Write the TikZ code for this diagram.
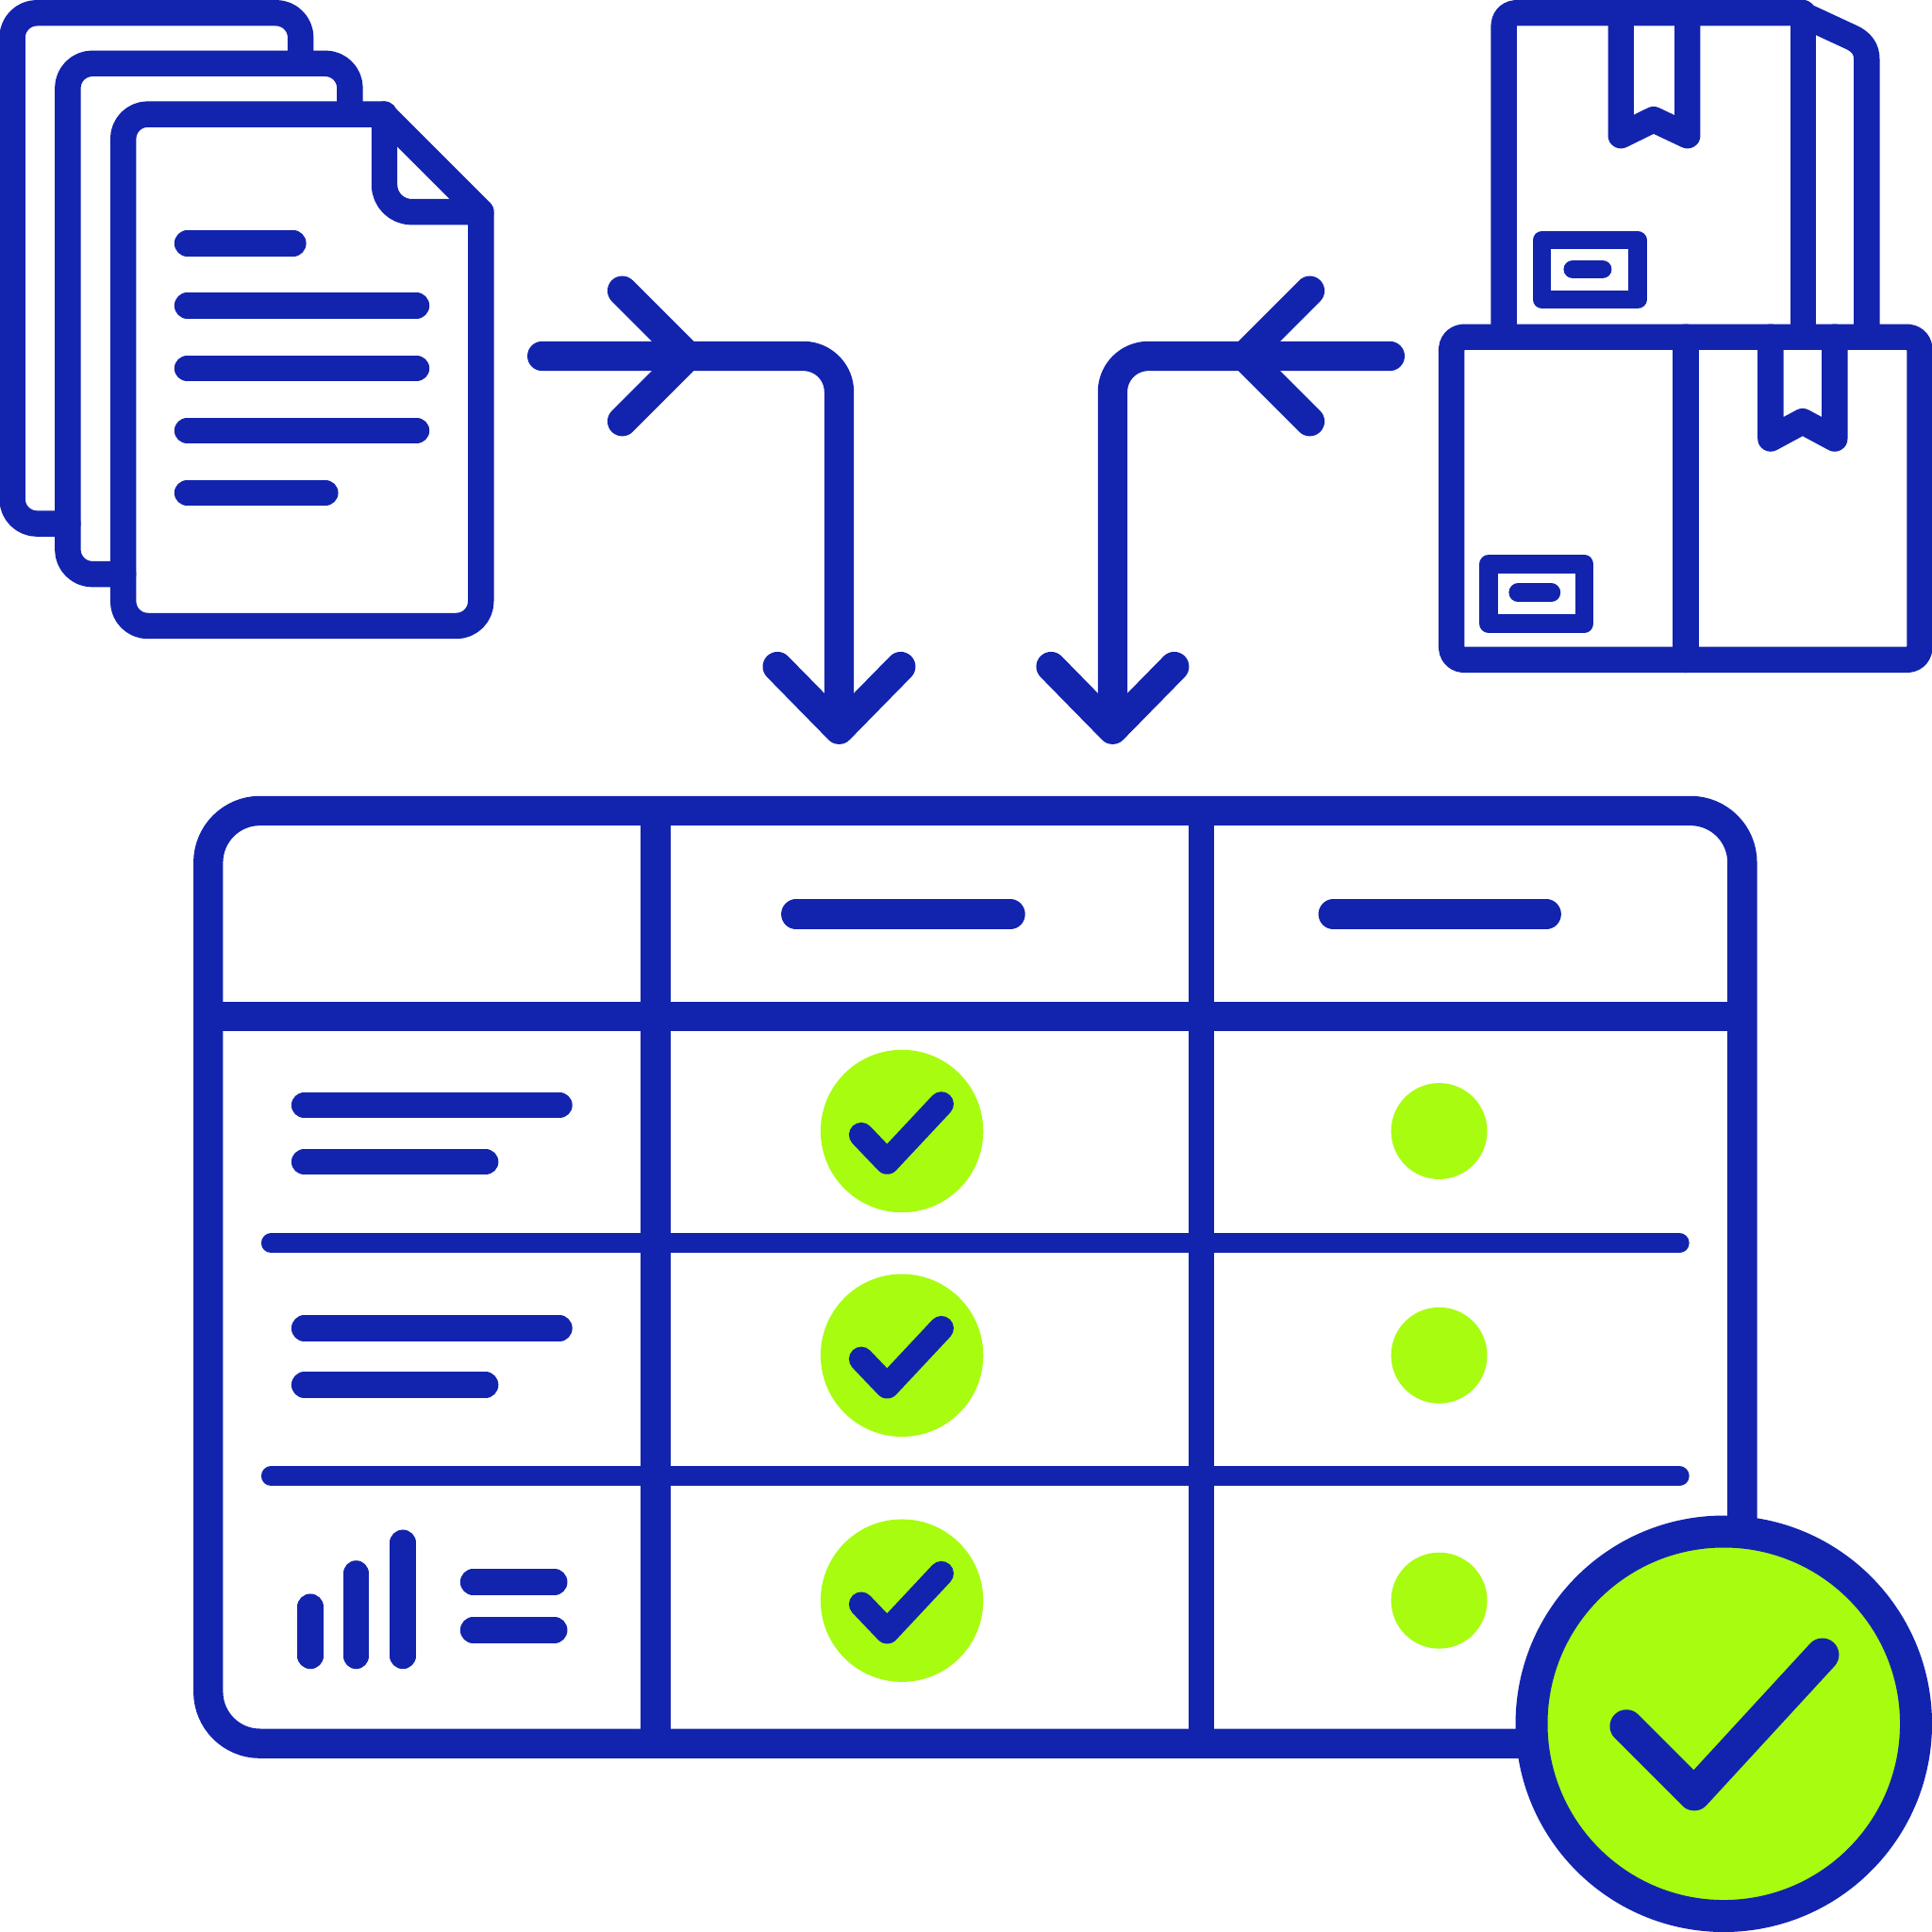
\documentclass[tikz,border=0pt]{standalone}
\definecolor{ib}{HTML}{1224AE}
\definecolor{ig}{HTML}{A8FC10}
\tikzset{
 ln/.style={draw=ib,line width=#1,line cap=round,line join=round},
 ln/.default=21pt,
 bar/.style={draw=ib,line width=#1,line cap=butt},
 dot/.style={fill=ig,draw=none}
}
\begin{document}
\begin{tikzpicture}[x=1pt,y=-1pt]
\useasboundingbox (0,0) rectangle (1568,1568);
\fill[white] (0,0) rectangle (1568,1568);
% documents
\draw[ln] (244,45) -- (244,30.5) arc[start angle=0,end angle=-90,radius=20] -- (30,10.5) arc[start angle=270,end angle=180,radius=20] -- (10,405) arc[start angle=180,end angle=90,radius=20] -- (55,425);
\draw[ln] (284,86) -- (284,71.5) arc[start angle=0,end angle=-90,radius=20] -- (75,51.5) arc[start angle=270,end angle=180,radius=20] -- (55,446) arc[start angle=180,end angle=90,radius=20] -- (100,466);
\draw[ln] (120,92.7) -- (311,92.7) -- (390.3,172) -- (390.3,488) arc[start angle=0,end angle=90,radius=20] -- (120,508) arc[start angle=90,end angle=180,radius=20] -- (100,112.7) arc[start angle=180,end angle=270,radius=20] -- cycle;
\draw[ln] (312,92.7) -- (312,150) arc[start angle=180,end angle=90,radius=22] -- (390.3,172);
\foreach \y/\x in {197.5/238,248/338,299/338,349.5/338,400/264}{\draw[ln] (152,\y) -- (\x,\y);}
% arrows
\draw[ln=24pt] (440,289) -- (652,289) arc[start angle=-90,end angle=0,radius=29] -- (681,588);
\draw[ln=24pt] (505,236) -- (558,289) -- (505,342);
\draw[ln=24pt] (631,541) -- (681,592) -- (731,541);
\draw[ln=24pt] (1128,289) -- (932,289) arc[start angle=270,end angle=180,radius=29] -- (903,588);
\draw[ln=24pt] (1063,236) -- (1010,289) -- (1063,342);
\draw[ln=24pt] (853,541) -- (903,592) -- (953,541);
% boxes
\draw[ln] (1220.5,273) -- (1220.5,20.5) arc[start angle=180,end angle=270,radius=10] -- (1460,10.5) -- (1502,30) .. controls (1511,34) and (1515,40) .. (1515,48) -- (1515,273);
\draw[ln] (1463.5,10.5) -- (1463.5,273);
\draw[ln] (1315.5,10.5) -- (1315.5,110) -- (1342,97) -- (1369.5,110) -- (1369.5,10.5);
\draw[ln=15pt] (1251.5,195) rectangle (1329,243);
\draw[ln=15pt] (1276.5,218.5) -- (1300.5,218.5);
\draw[ln] (1188,273.5) -- (1548,273.5) arc[start angle=-90,end angle=0,radius=10] -- (1558,525.5) arc[start angle=0,end angle=90,radius=10] -- (1188,535.5) arc[start angle=90,end angle=180,radius=10] -- (1178,283.5) arc[start angle=180,end angle=270,radius=10] -- cycle;
\draw[ln] (1368,273.5) -- (1368,535.5);
\draw[ln] (1437,273.5) -- (1437,356) -- (1463,342) -- (1489,356) -- (1489,273.5);
\draw[ln=15pt] (1208,458) rectangle (1286,506);
\draw[ln=15pt] (1232,481) -- (1259,481);
% table
\draw[ln=24pt] (211,658) -- (1372,658) arc[start angle=-90,end angle=0,radius=42] -- (1414,1373) arc[start angle=0,end angle=90,radius=42] -- (211,1415) arc[start angle=90,end angle=180,radius=42] -- (169,700) arc[start angle=180,end angle=270,radius=42] -- cycle;
\draw[bar=24pt] (169,825) -- (1414,825);
\draw[bar=24pt] (532,658) -- (532,1415);
\draw[bar=21pt] (975,658) -- (975,1415);
\draw[ln=16pt] (220,1009) -- (1363,1009);
\draw[ln=16pt] (220,1198) -- (1363,1198);
\draw[ln=24pt] (646,742) -- (820,742);
\draw[ln=24pt] (1082,742) -- (1255,742);
\draw[ln] (247,897) -- (454,897);
\draw[ln] (247,943) -- (394,943);
\draw[ln] (247,1078) -- (454,1078);
\draw[ln] (247,1124) -- (394,1124);
\draw[ln] (252,1304) -- (252,1344);
\draw[ln] (289,1277) -- (289,1344);
\draw[ln] (327,1252) -- (327,1344);
\draw[ln] (384,1284) -- (450,1284);
\draw[ln] (384,1323) -- (450,1323);
% status dots
\foreach \y in {918,1100,1299}{
 \fill[dot] (732,\y) circle[radius=66];
 \fill[dot] (1168,\y) circle[radius=39];
 \draw[ln=20pt] (699,\y+3) -- (720,\y+25) -- (764,\y-22);
}
% big badge
\draw[draw=ib,line width=26pt,fill=ig] (1399,1399) circle[radius=156];
\draw[ln=27pt] (1320,1401) -- (1375,1456) -- (1479,1343);
\end{tikzpicture}
\end{document}
